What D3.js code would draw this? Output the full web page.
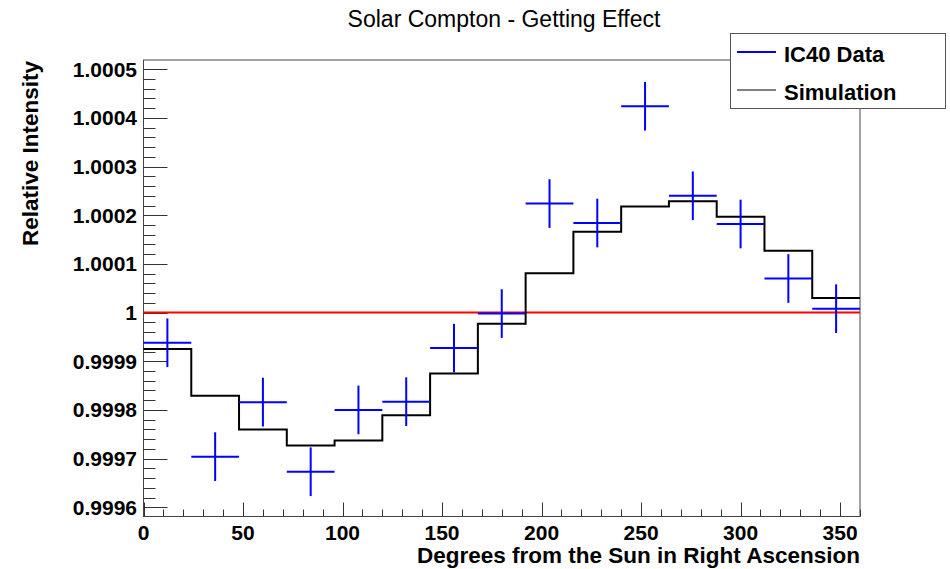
<!DOCTYPE html>
<html>
<head>
<meta charset="utf-8">
<script src="https://cdn.jsdelivr.net/npm/d3@7"></script>
<style>
  html, body { margin: 0; padding: 0; background: #fff; }
  svg { display: block; font-family: "Liberation Sans", Arial, Helvetica, sans-serif; }
</style>
</head>
<body>
<svg id="chart" width="950" height="569"></svg>
<script>
// Bin centres (degrees) and measured relative intensities
const binCenters = [12, 36, 60, 84, 108, 132, 156, 180, 204, 228, 252, 276, 300, 324, 348];
const binHalfWidth = 12;
const dataValues = [0.999938, 0.999704, 0.999816, 0.999673, 0.999800, 0.999817, 0.999927, 0.999998,
                    1.000224, 1.000184, 1.000424, 1.000240, 1.000182, 1.000070, 1.000008];
const dataErrors = [0.00005, 0.00005, 0.00005, 0.00005, 0.00005, 0.00005, 0.00005, 0.00005,
                    0.00005, 0.00005, 0.00005, 0.00005, 0.00005, 0.00005, 0.00005];
// Simulated histogram, one value per 24-degree bin
const binEdges = [0, 24, 48, 72, 96, 120, 144, 168, 192, 216, 240, 264, 288, 312, 336, 360];
const simValues = [0.999925, 0.999829, 0.999760, 0.999727, 0.999737, 0.999789, 0.999875, 0.999977,
                   1.000081, 1.000166, 1.000218, 1.000229, 1.000197, 1.000127, 1.000030];
const xTicks = [0, 50, 100, 150, 200, 250, 300, 350];
const yTicks = [0.9996, 0.9997, 0.9998, 0.9999, 1.0, 1.0001, 1.0002, 1.0003, 1.0004, 1.0005];
const yTickLabels = ["0.9996", "0.9997", "0.9998", "0.9999", "1", "1.0001", "1.0002", "1.0003", "1.0004", "1.0005"];
const legendItems = [
  { label: "IC40 Data", color: "#0000ff", width: 2 },
  { label: "Simulation", color: "#000000", width: 1 }
];

const svg = d3.select("#chart");
const L = 143.5, R = 860, T = 60, B = 516.5;

const x = d3.scaleLinear().domain([0, 360]).range([L, R]);
const y = d3.scaleLinear().domain([0.999581, 1.000519]).range([B, T]);

// Title
svg.append("text")
  .attr("x", 504).attr("y", 27)
  .attr("text-anchor", "middle")
  .attr("font-size", 23)
  .text("Solar Compton - Getting Effect");

// Frame
svg.append("rect")
  .attr("x", L).attr("y", T).attr("width", R - L).attr("height", B - T)
  .attr("fill", "none").attr("stroke", "#444").attr("stroke-width", 1);

// X axis ticks: majors every 50, minors every 10
const xMinor = d3.range(0, 361, 10);
svg.append("g").selectAll("line").data(xMinor).join("line")
  .attr("x1", d => Math.round(x(d)) + 0.5).attr("x2", d => Math.round(x(d)) + 0.5)
  .attr("y1", B).attr("y2", d => B - (d % 50 === 0 ? 14 : 7))
  .attr("stroke", "#333").attr("stroke-width", 1);

svg.append("g").selectAll("text").data(xTicks).join("text")
  .attr("x", d => x(d)).attr("y", 539.5)
  .attr("text-anchor", "middle")
  .attr("font-size", 21).attr("font-weight", "bold")
  .text(d => d);

// Y axis ticks: majors every 1e-4, minors every 2e-5
const yMinor = d3.range(0, 48).map(i => 0.99958 + i * 0.00002).filter(v => v >= 0.999581 && v <= 1.000519);
svg.append("g").selectAll("line").data(yMinor).join("line")
  .attr("y1", d => Math.round(y(d)) + 0.5).attr("y2", d => Math.round(y(d)) + 0.5)
  .attr("x1", L).attr("x2", d => {
    const major = Math.abs(Math.round(d * 10000) - d * 10000) < 1e-6;
    return L + (major ? 24 : 12);
  })
  .attr("stroke", "#333").attr("stroke-width", 1);

svg.append("g").selectAll("text").data(yTicks).join("text")
  .attr("x", 137).attr("y", d => y(d))
  .attr("dy", "0.36em")
  .attr("text-anchor", "end")
  .attr("font-size", 21).attr("font-weight", "bold")
  .text((d, i) => yTickLabels[i]);

// Axis titles
svg.append("text")
  .attr("x", R).attr("y", 563)
  .attr("text-anchor", "end")
  .attr("font-size", 22.5).attr("font-weight", "bold")
  .text("Degrees from the Sun in Right Ascension");

svg.append("text")
  .attr("transform", "translate(38,61) rotate(-90)")
  .attr("text-anchor", "end")
  .attr("font-size", 22.5).attr("font-weight", "bold")
  .text("Relative Intensity");

// Reference line at unity
svg.append("line")
  .attr("x1", x(0)).attr("x2", x(360))
  .attr("y1", y(1)).attr("y2", y(1))
  .attr("stroke", "#ff0000").attr("stroke-width", 2);

// Simulation step histogram
const steps = [];
simValues.forEach((v, i) => {
  steps.push([binEdges[i], v]);
  steps.push([binEdges[i + 1], v]);
});
svg.append("path")
  .attr("d", d3.line().x(d => x(d[0])).y(d => y(d[1]))(steps))
  .attr("fill", "none").attr("stroke", "#000").attr("stroke-width", 2);

// Data points with error crosses
const pts = svg.append("g").attr("stroke", "#0000ff").attr("stroke-width", 2);
binCenters.forEach((c, i) => {
  pts.append("line")
    .attr("x1", x(c - binHalfWidth)).attr("x2", x(c + binHalfWidth))
    .attr("y1", y(dataValues[i])).attr("y2", y(dataValues[i]));
  pts.append("line")
    .attr("x1", x(c)).attr("x2", x(c))
    .attr("y1", y(dataValues[i] - dataErrors[i])).attr("y2", y(dataValues[i] + dataErrors[i]));
});

// Legend
const lg = svg.append("g");
lg.append("rect")
  .attr("x", 730.5).attr("y", 33.5).attr("width", 215).attr("height", 75)
  .attr("fill", "#fff").attr("stroke", "#555").attr("stroke-width", 1);
legendItems.forEach((d, i) => {
  const yy = 52 + i * 38;
  lg.append("line")
    .attr("x1", 737).attr("x2", 776).attr("y1", yy).attr("y2", yy)
    .attr("stroke", d.color).attr("stroke-width", d.width);
  lg.append("text")
    .attr("x", 784).attr("y", yy + 9.5)
    .attr("font-size", 22).attr("font-weight", "bold")
    .text(d.label);
});
</script>
</body>
</html>
